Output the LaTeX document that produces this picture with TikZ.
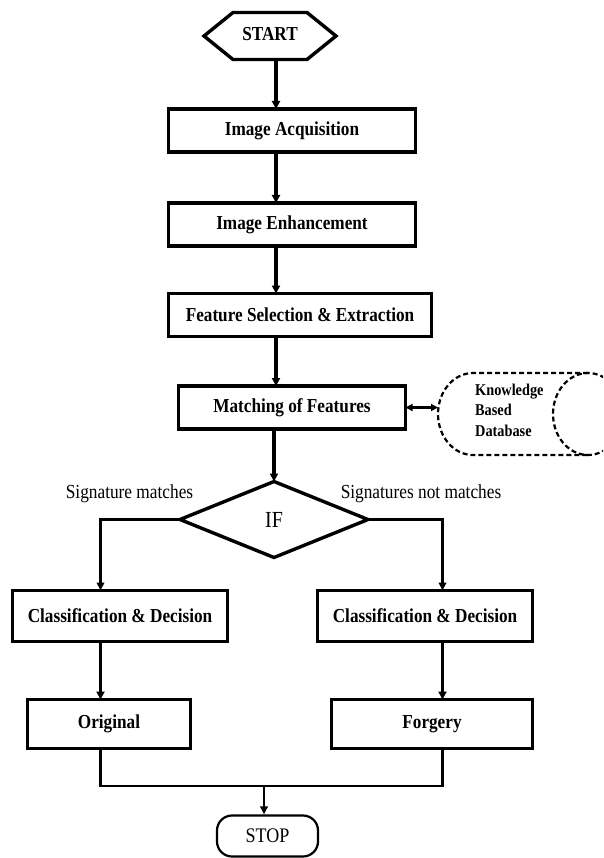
\documentclass[tikz,border=0pt]{standalone}
\usepackage{fontspec}
\usepackage{graphicx}
\setmainfont{Liberation Serif}
\usetikzlibrary{arrows.meta,calc}
\newcommand{\vst}[1]{\scalebox{1}[1.15]{#1}}
\begin{document}
\begin{tikzpicture}[x=1pt,y=-1pt,
  box/.style={draw,line width=3.4pt,inner sep=0pt,outer sep=0pt,font=\fontsize{17.2}{20}\selectfont\bfseries},
  flow/.style={line width=3.4pt,-{Triangle[length=8pt,width=8pt]}},
  thinflow/.style={line width=2.2pt,-{Triangle[length=8pt,width=7.5pt]}},
  link/.style={line width=2.2pt},
  lbl/.style={font=\fontsize{17.3}{20}\selectfont,inner sep=0pt},
  db/.style={line width=2.2pt,dash pattern=on 5pt off 3pt}
]
\useasboundingbox (0,0) rectangle (603,858);
\coordinate (sp) at (276,0);
\coordinate (lx) at (100.5,0);
\coordinate (rx) at (442.5,0);
\coordinate (mid) at (264,786);
\coordinate (dbl) at (438,407.5);

% START
\node[inner sep=0pt,outer sep=0pt,minimum width=132pt,minimum height=47pt,font=\fontsize{17.2}{20}\selectfont\bfseries] (start) at (270,36) {\raisebox{5pt}{\vst{START}}};
\draw[line width=3.4pt] (start.west) -- ($(start.north west)+(29,0)$) -- ($(start.north east)+(-29,0)$) -- (start.east) -- ($(start.south east)+(-29,0)$) -- ($(start.south west)+(29,0)$) -- cycle;

\node[box,minimum width=247pt,minimum height=43pt] (acq) at (292,130.5) {\vst{Image Acquisition}};
\node[box,minimum width=247pt,minimum height=43pt] (enh) at (292,224.5) {\vst{Image Enhancement}};
\node[box,minimum width=263pt,minimum height=43pt] (feat) at (300,315) {\vst{Feature Selection \& Extraction}};
\node[box,minimum width=227pt,minimum height=43pt] (match) at (292,407.5) {\vst{Matching of Features}};

% IF diamond
\node[inner sep=0pt,outer sep=0pt,minimum width=188pt,minimum height=76pt,font=\fontsize{20}{24}\selectfont] (if) at (274,519.5) {\vst{IF}};
\draw[line width=3.4pt] (if.west) -- (if.north) -- (if.east) -- (if.south) -- cycle;

\node[lbl] (lm) at (129.5,494) {\vst{Signature matches}};
\node[lbl] (lnm) at (421,494) {\vst{Signatures not matches}};

\node[box,minimum width=215pt,minimum height=51pt] (cl1) at (120,616) {\vst{Classification \& Decision}};
\node[box,minimum width=215pt,minimum height=51pt] (cl2) at (425,616) {\vst{Classification \& Decision}};
\node[box,minimum width=163pt,minimum height=49pt] (orig) at (109,724) {\vst{Original}};
\node[box,minimum width=201pt,minimum height=49pt] (forg) at (432,724) {\vst{Forgery}};

\node[draw,line width=2.2pt,rounded corners=15pt,inner sep=0pt,minimum width=101pt,minimum height=41pt,font=\fontsize{18}{22}\selectfont] (stop) at (267.5,836) {\vst{STOP}};

% database
\begin{scope}
\clip (0,0) rectangle (603,858);
\draw[db] (588,373) -- (473,373) arc[start angle=270,end angle=90,x radius=35,y radius=41] -- (588,455);
\draw[db] (588,414) ellipse[x radius=35,y radius=41];
\end{scope}
\node[anchor=west,inner sep=0pt,align=left,font=\fontsize{14.3}{20.5}\selectfont\bfseries] (kb) at (475,410) {\vst{Knowledge}\\\vst{Based}\\\vst{Database}};

% connectors
\draw[flow] (start.south -| sp) -- (acq.north -| sp);
\draw[flow] (acq.south -| sp) -- (enh.north -| sp);
\draw[flow] (enh.south -| sp) -- (feat.north -| sp);
\draw[flow] (feat.south -| sp) -- (match.north -| sp);
\draw[flow] (match.south -| if.north) -- (if.north);
\draw[line width=2.4pt,{Triangle[length=7pt,width=7pt]}-{Triangle[length=7pt,width=7pt]}] (match.east) -- (dbl);
\draw[thinflow] (if.west) -| (cl1.north -| lx);
\draw[thinflow] (if.east) -| (cl2.north -| rx);
\draw[flow] (cl1.south -| lx) -- (orig.north -| lx);
\draw[flow] (cl2.south -| rx) -- (forg.north -| rx);
\draw[link] (orig.south -| lx) |- (mid) -| (forg.south -| rx);
\draw[thinflow] (mid) -- (stop.north -| mid);
\end{tikzpicture}
\end{document}
